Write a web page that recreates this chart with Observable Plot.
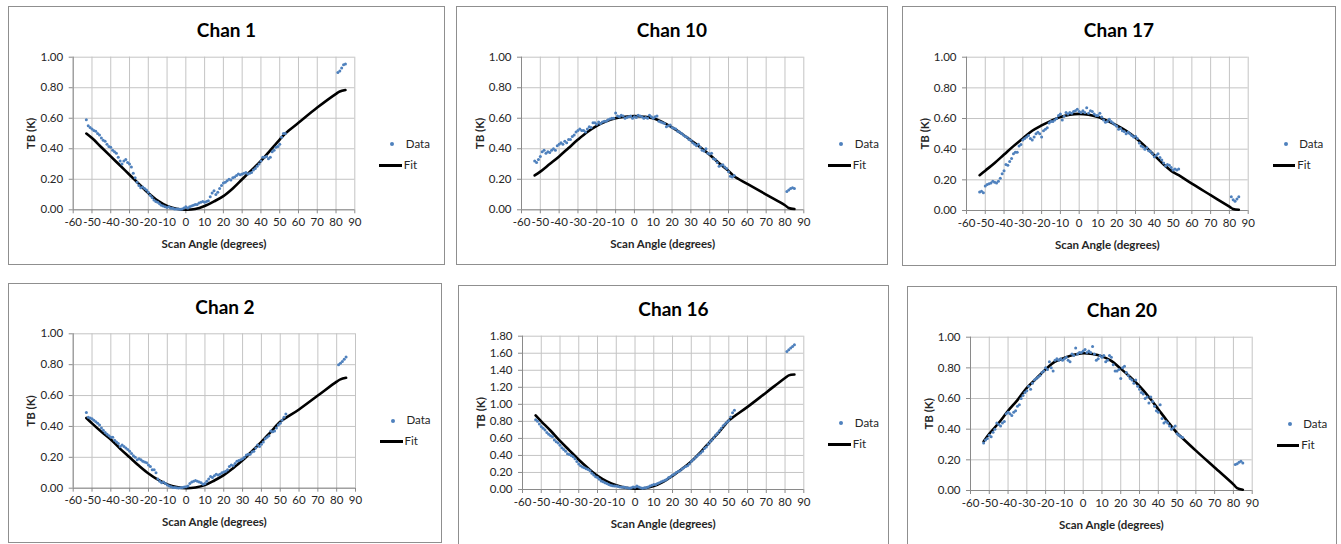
<!DOCTYPE html>
<html><head><meta charset="utf-8">
<script src="https://cdn.jsdelivr.net/npm/d3@7"></script>
<script src="https://cdn.jsdelivr.net/npm/@observablehq/plot@0.6"></script>
<style>
body{margin:0;background:#fff;font-family:Lato, sans-serif;}
#root{position:relative;width:1341px;height:544px;overflow:hidden;background:#fff}
.panel{position:absolute;background:#fff}
.panel .border{position:absolute;left:0;top:0;right:0;bottom:0;border:1px solid #8f8f8f;box-sizing:border-box;pointer-events:none}
.panel svg{position:absolute;left:0;top:0}
.title{position:absolute;left:0;right:0;text-align:center;font-weight:bold;font-size:19px;line-height:19px;color:#000}
.leg{position:absolute;font-size:11.5px;line-height:12px;color:#262626;white-space:nowrap}
.legdot{position:absolute;width:4px;height:4px;border-radius:50%;background:#4f81bd}
.legline{position:absolute;height:3px;background:#000}
</style>
</head><body>
<div id="root"></div>
<script>
// ---- data ----
const dataAngles = [-53,-52,-51,-50,-49,-48,-47,-46,-45,-44,-43,-42,-41,-40,-39,-38,-37,-36,-35,-34,-33,-32,-31,-30,-29,-28,-27,-26,-25,-24,-23,-22,-21,-20,-19,-18,-17,-16,-15,-14,-13,-12,-11,-10,-9,-8,-7,-6,-5,-4,-3,-2,-1,0,1,2,3,4,5,6,7,8,9,10,11,12,13,14,15,16,17,18,19,20,21,22,23,24,25,26,27,28,29,30,31,32,33,34,35,36,37,38,39,40,41,42,43,44,45,46,47,48,49,50,51,52,53,81,82,83,84,85];
const fitAngles = [-53,-50,-45,-40,-35,-30,-25,-20,-15,-10,-5,0,5,10,15,20,25,30,35,40,45,50,53,60,70,80,82,85];

const chan1Data = [0.59,0.55,0.54,0.53,0.52,0.515,0.50,0.49,0.47,0.455,
0.45,0.43,0.415,0.41,0.39,0.38,0.37,0.345,0.32,0.30,
0.32,0.33,0.31,0.30,0.28,0.24,0.21,0.18,0.16,0.145,
0.15,0.14,0.13,0.115,0.095,0.08,0.065,0.055,0.05,0.04,
0.03,0.025,0.02,0.015,0.02,0.01,0.01,0.005,0.005,0.005,
0.003,0.005,0.012,0.02,0.012,0.02,0.025,0.03,0.035,0.035,
0.045,0.05,0.055,0.05,0.055,0.06,0.085,0.11,0.125,0.10,
0.115,0.14,0.16,0.175,0.18,0.19,0.20,0.195,0.21,0.215,
0.225,0.235,0.23,0.235,0.24,0.245,0.235,0.24,0.245,0.26,
0.27,0.285,0.30,0.32,0.345,0.345,0.35,0.335,0.345,0.38,
0.39,0.41,0.415,0.43,0.475,0.50,0.50,
0.90,0.91,0.93,0.95,0.955];
const chan1Fit = [0.50,0.47,0.41,0.35,0.29,0.23,0.17,0.11,0.06,0.025,0.007,0.0,0.005,0.025,0.055,0.09,0.14,0.20,0.26,0.32,0.39,0.46,0.50,0.57,0.67,0.76,0.775,0.785];

const chan10Data = [0.32,0.31,0.33,0.35,0.38,0.39,0.37,0.38,0.375,0.39,
0.40,0.39,0.42,0.43,0.44,0.43,0.45,0.44,0.46,0.46,
0.48,0.49,0.51,0.52,0.53,0.52,0.52,0.51,0.53,0.545,
0.54,0.57,0.57,0.56,0.575,0.565,0.575,0.58,0.58,0.59,
0.595,0.60,0.60,0.635,0.615,0.61,0.62,0.615,0.60,0.605,
0.61,0.615,0.60,0.61,0.605,0.62,0.615,0.61,0.60,0.605,
0.60,0.62,0.61,0.60,0.61,0.615,0.58,0.575,0.57,0.565,
0.545,0.55,0.555,0.54,0.535,0.53,0.515,0.51,0.50,0.49,
0.48,0.475,0.46,0.455,0.44,0.43,0.42,0.43,0.41,0.39,
0.385,0.40,0.37,0.365,0.37,0.335,0.33,0.31,0.285,0.29,
0.295,0.28,0.27,0.25,0.22,0.215,0.225,
0.12,0.13,0.14,0.145,0.14];
const chan10Fit = [0.225,0.25,0.30,0.35,0.405,0.46,0.51,0.55,0.58,0.60,0.61,0.615,0.61,0.60,0.575,0.54,0.50,0.455,0.41,0.36,0.305,0.255,0.22,0.17,0.10,0.03,0.012,0.005];

const chan17Data = [0.12,0.125,0.115,0.16,0.17,0.175,0.18,0.19,0.185,0.18,
0.19,0.21,0.24,0.26,0.30,0.295,0.32,0.34,0.37,0.38,
0.38,0.42,0.43,0.46,0.47,0.48,0.49,0.47,0.46,0.48,
0.50,0.51,0.50,0.48,0.52,0.53,0.54,0.57,0.58,0.58,
0.59,0.60,0.62,0.63,0.59,0.615,0.64,0.63,0.64,0.635,
0.645,0.65,0.66,0.645,0.64,0.65,0.64,0.67,0.635,0.65,
0.645,0.63,0.62,0.62,0.635,0.61,0.59,0.575,0.58,0.595,
0.58,0.57,0.56,0.55,0.53,0.535,0.52,0.515,0.50,0.51,
0.50,0.49,0.48,0.485,0.47,0.44,0.42,0.415,0.40,0.41,
0.39,0.385,0.37,0.35,0.36,0.37,0.345,0.33,0.31,0.29,
0.30,0.295,0.28,0.265,0.27,0.265,0.27,
0.09,0.07,0.06,0.075,0.09];
const chan17Fit = [0.23,0.26,0.31,0.365,0.42,0.47,0.52,0.555,0.585,0.61,0.625,0.63,0.625,0.61,0.585,0.555,0.52,0.475,0.42,0.36,0.30,0.25,0.23,0.175,0.10,0.025,0.01,0.005];

const chan2Data = [0.49,0.46,0.455,0.45,0.44,0.43,0.42,0.41,0.39,0.375,
0.36,0.35,0.34,0.33,0.33,0.31,0.30,0.29,0.27,0.28,
0.27,0.26,0.25,0.24,0.225,0.21,0.20,0.185,0.19,0.185,
0.175,0.17,0.165,0.15,0.14,0.12,0.12,0.10,0.06,0.045,
0.035,0.04,0.03,0.02,0.015,0.01,0.005,0.005,0.003,0.002,
0.003,0.005,0.008,0.01,0.015,0.03,0.04,0.045,0.05,0.045,
0.04,0.035,0.025,0.03,0.045,0.06,0.075,0.07,0.08,0.09,
0.085,0.09,0.10,0.105,0.11,0.12,0.14,0.15,0.145,0.16,
0.175,0.18,0.185,0.19,0.20,0.215,0.22,0.22,0.235,0.24,
0.26,0.28,0.27,0.285,0.30,0.32,0.33,0.34,0.37,0.365,
0.37,0.39,0.41,0.42,0.44,0.46,0.48,
0.80,0.81,0.82,0.835,0.85];
const chan2Fit = [0.455,0.42,0.365,0.315,0.255,0.20,0.145,0.095,0.055,0.025,0.007,0.0,0.005,0.02,0.05,0.085,0.13,0.18,0.24,0.30,0.365,0.43,0.455,0.51,0.60,0.69,0.705,0.715];

const chan16Data = [0.82,0.80,0.77,0.74,0.72,0.70,0.67,0.65,0.63,0.62,
0.58,0.56,0.545,0.52,0.49,0.47,0.45,0.42,0.41,0.40,
0.385,0.36,0.33,0.30,0.28,0.265,0.255,0.245,0.235,0.22,
0.19,0.17,0.15,0.14,0.12,0.10,0.09,0.08,0.07,0.06,
0.05,0.045,0.04,0.04,0.035,0.03,0.025,0.03,0.02,0.02,
0.015,0.02,0.03,0.025,0.04,0.03,0.02,0.015,0.02,0.02,
0.03,0.04,0.05,0.06,0.06,0.07,0.08,0.09,0.10,0.11,
0.12,0.14,0.15,0.17,0.18,0.20,0.21,0.22,0.24,0.255,
0.27,0.28,0.30,0.33,0.35,0.37,0.39,0.41,0.43,0.45,
0.48,0.50,0.53,0.56,0.58,0.61,0.64,0.66,0.69,0.72,
0.75,0.77,0.79,0.81,0.85,0.90,0.93,
1.62,1.64,1.66,1.68,1.70];
const chan16Fit = [0.87,0.80,0.69,0.57,0.46,0.35,0.25,0.16,0.095,0.05,0.02,0.01,0.015,0.04,0.09,0.16,0.24,0.33,0.44,0.56,0.68,0.81,0.86,0.97,1.14,1.31,1.34,1.35];

const chan20Data = [0.31,0.33,0.34,0.36,0.35,0.38,0.40,0.44,0.43,0.42,
0.44,0.45,0.50,0.51,0.50,0.49,0.51,0.52,0.55,0.56,
0.60,0.62,0.64,0.65,0.68,0.66,0.70,0.72,0.73,0.74,
0.75,0.77,0.78,0.80,0.79,0.84,0.80,0.78,0.85,0.86,
0.85,0.86,0.85,0.86,0.87,0.85,0.84,0.89,0.88,0.93,
0.89,0.90,0.90,0.91,0.92,0.90,0.91,0.90,0.94,0.89,
0.85,0.86,0.88,0.87,0.88,0.84,0.85,0.88,0.87,0.82,
0.78,0.78,0.79,0.73,0.80,0.81,0.77,0.75,0.73,0.72,
0.70,0.72,0.68,0.66,0.64,0.63,0.60,0.61,0.57,0.61,
0.58,0.55,0.52,0.51,0.56,0.47,0.44,0.45,0.44,0.42,
0.40,0.41,0.42,0.37,0.36,0.35,0.345,
0.17,0.175,0.185,0.19,0.18];
const chan20Fit = [0.32,0.37,0.44,0.52,0.59,0.67,0.73,0.79,0.84,0.865,0.885,0.895,0.89,0.875,0.845,0.795,0.74,0.68,0.61,0.53,0.45,0.375,0.34,0.26,0.15,0.04,0.015,0.005];

const xTicks = [-60,-50,-40,-30,-20,-10,0,10,20,30,40,50,60,70,80,90];
const yTicks = [0,0.2,0.4,0.6,0.8,1.0];
const yTicks16 = [0,0.2,0.4,0.6,0.8,1.0,1.2,1.4,1.6,1.8];
const titles = ["Chan 1","Chan 10","Chan 17","Chan 2","Chan 16","Chan 20"];
const xLabel = "Scan Angle (degrees)";
const yLabel = "TB (K)";
const legendLabels = ["Data","Fit"];

// ---- layout ----
// box: left, top, width, height ; m: top, right, bottom, left
const layout = [
  {box:[8,6,437,259],   m:[50.7,90.7,55.7,64.7]},
  {box:[456,6,432,259], m:[50.7,84.7,55.7,65]},
  {box:[902,6,434,260], m:[50.7,88.3,56,64]},
  {box:[8,283,434,260], m:[50.3,87,55.3,64.7]},
  {box:[458,285,431,265], m:[50.7,85.7,61,64]},
  {box:[907,286,430,264], m:[50.7,85.3,60,63]}
];
const series = [
  [chan1Data, chan1Fit, yTicks],
  [chan10Data, chan10Fit, yTicks],
  [chan17Data, chan17Fit, yTicks],
  [chan2Data, chan2Fit, yTicks],
  [chan16Data, chan16Fit, yTicks16],
  [chan20Data, chan20Fit, yTicks]
];

const root = document.getElementById("root");
const grid = "#c4c4c4", axisCol = "#8a8a8a", textCol = "#262626";

series.forEach(([vals, fitVals, ticks], i) => {
  const L = layout[i];
  const [bl, bt, bw, bh] = L.box;
  const [mt, mr, mb, ml] = L.m;
  const pts = dataAngles.map((a, j) => ({a, v: vals[j]}));
  const fit = fitAngles.map((a, j) => ({a, v: fitVals[j]}));
  const yMax = ticks[ticks.length - 1];

  const panel = document.createElement("div");
  panel.className = "panel";
  Object.assign(panel.style, {left: bl + "px", top: bt + "px", width: bw + "px", height: bh + "px"});

  const svg = Plot.plot({
    width: bw, height: bh,
    marginTop: mt, marginRight: mr, marginBottom: mb, marginLeft: ml,
    style: {fontFamily: "Lato, sans-serif", fontSize: "11.5px", color: textCol, background: "transparent", overflow: "visible"},
    x: {domain: [-60, 90]},
    y: {domain: [0, yMax]},
    marks: [
      Plot.gridX(xTicks, {stroke: grid, strokeOpacity: 1}),
      Plot.gridY(ticks, {stroke: grid, strokeOpacity: 1}),
      Plot.ruleX([-60], {stroke: axisCol}),
      Plot.ruleY([0], {stroke: axisCol}),
      Plot.axisX(xTicks, {tickFormat: d => String(d), tickSize: 4, tickPadding: 4, stroke: axisCol, label: null}),
      Plot.axisX([], {label: xLabel, labelAnchor: "center", labelArrow: "none", labelOffset: 38, fontWeight: "bold", fontSize: 11.5, tickSize: 0}),
      Plot.axisY(ticks, {tickFormat: d3.format(".2f"), tickSize: 4, tickPadding: 6, stroke: axisCol, label: null}),
      Plot.axisY([], {label: yLabel, labelAnchor: "center", labelArrow: "none", labelOffset: 46, fontWeight: "bold", fontSize: 11.5, tickSize: 0}),
      Plot.line(fit, {x: "a", y: "v", stroke: "#000", strokeWidth: 2.6, curve: "catmull-rom"}),
      Plot.dot(pts, {x: "a", y: "v", r: 1.5, fill: "#4f81bd", stroke: "none"})
    ]
  });
  panel.appendChild(svg);

  const title = document.createElement("div");
  title.className = "title";
  title.textContent = titles[i];
  title.style.top = (23.5 - 9.5) + "px";
  panel.appendChild(title);

  const pr = bw - mr; // plot right edge within panel
  const dotEl = document.createElement("div");
  dotEl.className = "legdot";
  Object.assign(dotEl.style, {left: (pr + 38 - 2) + "px", top: (mt + 87.5 - 2) + "px"});
  panel.appendChild(dotEl);
  const dLab = document.createElement("div");
  dLab.className = "leg";
  dLab.textContent = legendLabels[0];
  Object.assign(dLab.style, {left: (pr + 51.5) + "px", top: (mt + 87.5 - 6.5) + "px"});
  panel.appendChild(dLab);
  const lineEl = document.createElement("div");
  lineEl.className = "legline";
  Object.assign(lineEl.style, {left: (pr + 25) + "px", width: "22.5px", top: (mt + 108.5 - 1.5) + "px"});
  panel.appendChild(lineEl);
  const fLab = document.createElement("div");
  fLab.className = "leg";
  fLab.textContent = legendLabels[1];
  Object.assign(fLab.style, {left: (pr + 49.5) + "px", top: (mt + 108.5 - 6.5) + "px"});
  panel.appendChild(fLab);

  const border = document.createElement("div");
  border.className = "border";
  panel.appendChild(border);
  root.appendChild(panel);
});
</script>
</body></html>
